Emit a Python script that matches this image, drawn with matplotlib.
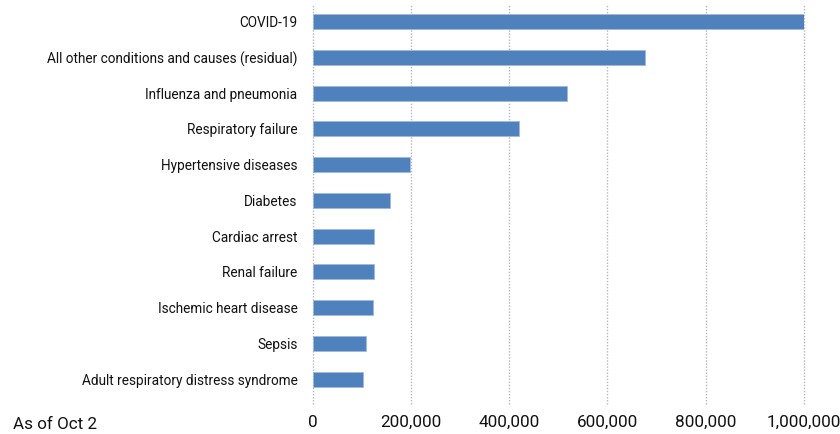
import matplotlib
matplotlib.use("Agg")
import matplotlib.pyplot as plt
from matplotlib.ticker import FuncFormatter

causes = ["COVID-19",
          "All other conditions and causes (residual)",
          "Influenza and pneumonia",
          "Respiratory failure",
          "Hypertensive diseases",
          "Diabetes",
          "Cardiac arrest",
          "Renal failure",
          "Ischemic heart disease",
          "Sepsis",
          "Adult respiratory distress syndrome"]
deaths = [1004000, 677000, 517000, 420000, 199000, 157000,
          125000, 125000, 122000, 109000, 103000]
ticks = [0, 200000, 400000, 600000, 800000, 1000000]

plt.rcParams['font.family'] = ['Roboto', 'DejaVu Sans']

fig = plt.figure(figsize=(8.4, 4.34), dpi=100)
ax = fig.add_axes([0.3723, 0.069, 0.957 - 0.3723, 0.922])

# no narrow font here, so size the texts by the width they have in the original
r = fig.canvas.get_renderer()
def fit(s, px):
    t = fig.text(0, 0, s, fontsize=10)
    w = t.get_window_extent(r).width
    t.remove()
    return 10 * px / w

ysize = fit(causes[1], 250)
xsize = fit("400,000", 61)
nsize = fit("As of Oct 2", 84)

ax.barh(range(len(causes)), deaths, height=0.42, color="#4F81BD",
        edgecolor="#9fb9dc", linewidth=0.6, zorder=3)

ax.set_xlim(0, 1000000)
ax.set_ylim(10.7, -0.5)
ax.set_xticks(ticks)
ax.xaxis.set_major_formatter(FuncFormatter(lambda v, p: f"{int(v):,}"))
ax.set_yticks(range(len(causes)))
ax.set_yticklabels(causes)

for s in ax.spines.values():
    s.set_visible(False)
ax.tick_params(axis="both", length=0, colors="#111111")
ax.tick_params(axis="y", pad=11, labelsize=ysize)
ax.tick_params(axis="x", pad=8, labelsize=xsize)
ax.grid(axis="x", color="#b8b8b8", linestyle=(0, (1, 1.2)), linewidth=1, zorder=0)
for g in ax.get_xgridlines():
    g.set_clip_on(False)

fig.text(0.015, 0.004, "As of Oct 2", fontsize=nsize, color="#111111",
         ha="left", va="bottom")

fig.savefig("out.png", dpi=100)
